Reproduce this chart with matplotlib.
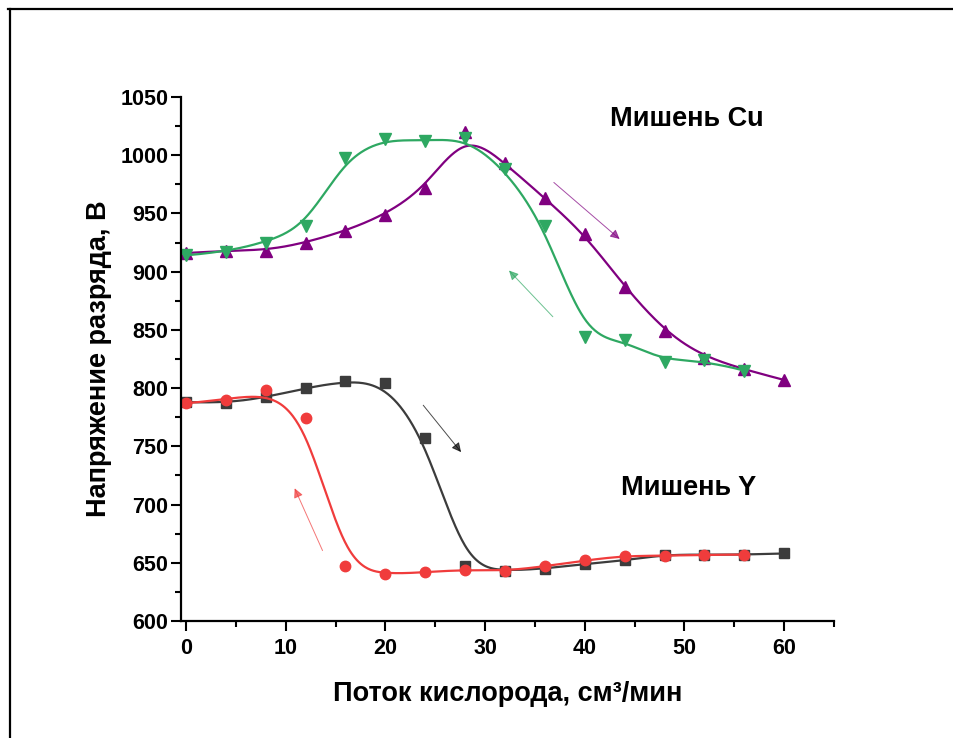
import numpy as np
import matplotlib.pyplot as plt
from matplotlib.lines import Line2D

plt.rcParams['font.family'] = ['Liberation Sans', 'DejaVu Sans']
plt.rcParams['font.weight'] = 'bold'

# Y target: flow up (black) and flow down (red)
flow_y_up = [0, 4, 8, 12, 16, 20, 24, 28, 32, 36, 40, 44, 48, 52, 56, 60]
volt_y_up = [788, 787, 792, 800, 806, 804, 757, 647, 643, 645, 649, 652, 657, 657, 657, 658]
flow_y_down = [0, 4, 8, 12, 16, 20, 24, 28, 32, 36, 40, 44, 48, 52, 56]
volt_y_down = [787, 790, 798, 774, 647, 640, 642, 644, 643, 647, 652, 656, 656, 657, 657]

# Cu target: flow up (purple) and flow down (green)
flow_cu_up = [0, 4, 8, 12, 16, 20, 24, 28, 32, 36, 40, 44, 48, 52, 56, 60]
volt_cu_up = [916, 918, 918, 925, 935, 949, 972, 1020, 993, 963, 932, 887, 849, 826, 816, 807]
flow_cu_down = [0, 4, 8, 12, 16, 20, 24, 28, 32, 36, 40, 44, 48, 52, 56]
volt_cu_down = [914, 917, 925, 939, 998, 1014, 1012, 1015, 988, 939, 844, 841, 822, 824, 815]


def bspline(xs, ys, k=3, n=500):
    # clamped cubic B-spline with the data points as control points
    pts = np.column_stack([xs, ys]).astype(float)
    m = len(pts)
    knots = np.concatenate([np.zeros(k), np.arange(m - k + 1), np.full(k, m - k)]).astype(float)
    t = np.linspace(0, m - k, n)
    N = np.zeros((n, len(knots) - 1))
    for i in range(len(knots) - 1):
        N[:, i] = (knots[i] <= t) & (t < knots[i + 1])
    N[-1, m - 1] = 1.0
    for d in range(1, k + 1):
        M = np.zeros((n, len(knots) - 1 - d))
        for i in range(len(knots) - 1 - d):
            a = knots[i + d] - knots[i]
            b = knots[i + d + 1] - knots[i + 1]
            if a > 0:
                M[:, i] += (t - knots[i]) / a * N[:, i]
            if b > 0:
                M[:, i] += (knots[i + d + 1] - t) / b * N[:, i + 1]
        N = M
    curve = N @ pts
    return curve[:, 0], curve[:, 1]


series = [
    (flow_y_up, volt_y_up, '#3c3c3c', 's', 7),
    (flow_y_down, volt_y_down, '#f03c3c', 'o', 7.5),
    (flow_cu_up, volt_cu_up, '#800080', '^', 8.5),
    (flow_cu_down, volt_cu_down, '#2ea862', 'v', 8.5),
]

fig = plt.figure(figsize=(9.54, 7.38), dpi=100)
ax = fig.add_axes([0.1897, 0.1585, 0.6845, 0.7101])

for xs, ys, color, marker, ms in series:
    cx, cy = bspline(xs, ys)
    ax.plot(cx, cy, color=color, lw=1.6)
    ax.plot(xs, ys, linestyle='none', marker=marker, color=color, ms=ms, mec=color)

arrows = [
    ((36.9, 976.6), (43.5, 928.0), '#800080'),
    ((36.8, 861.3), (32.4, 901.0), '#2ea862'),
    ((23.8, 785.3), (27.6, 745.0), '#000000'),
    ((13.7, 660.5), (10.9, 714.0), '#f03c3c'),
]
for tail, tip, color in arrows:
    ax.annotate('', xy=tip, xytext=tail,
                arrowprops=dict(arrowstyle='-|>', color=color, lw=0.7, alpha=0.7,
                                mutation_scale=14, shrinkA=0, shrinkB=0))

ax.text(50.2, 1031, 'Мишень Cu', fontsize=19.5, ha='center', va='center')
ax.text(50.4, 714, 'Мишень Y', fontsize=19.5, ha='center', va='center')

ax.set_xlim(-0.5, 65)
ax.set_ylim(600, 1050)
ax.set_xticks(np.arange(0, 61, 10))
ax.set_xticks(np.arange(5, 66, 10), minor=True)
ax.set_yticks(np.arange(600, 1051, 50))
ax.set_yticks(np.arange(625, 1050, 50), minor=True)

for side in ['top', 'right']:
    ax.spines[side].set_visible(False)
for side in ['left', 'bottom']:
    ax.spines[side].set_linewidth(1.6)

ax.tick_params(which='major', direction='out', length=7, width=1.5, labelsize=15.5)
ax.tick_params(axis='y', which='major', pad=2)
ax.tick_params(axis='x', which='major', pad=5)
ax.tick_params(which='minor', direction='out', length=4, width=1.5)

ax.set_xlabel('Поток кислорода, см³/мин', fontsize=19.5, fontweight='bold', labelpad=16)
ax.set_ylabel('Напряжение разряда, В', fontsize=19.5, fontweight='bold', labelpad=6)

# partial frame around the picture
fig.add_artist(Line2D([8 / 954, 1], [1 - 9 / 738, 1 - 9 / 738], color='black', lw=1.6,
                      transform=fig.transFigure))
fig.add_artist(Line2D([10 / 954, 10 / 954], [0, 1 - 9 / 738], color='black', lw=1.6,
                      transform=fig.transFigure))

fig.savefig('out.png', dpi=100)
